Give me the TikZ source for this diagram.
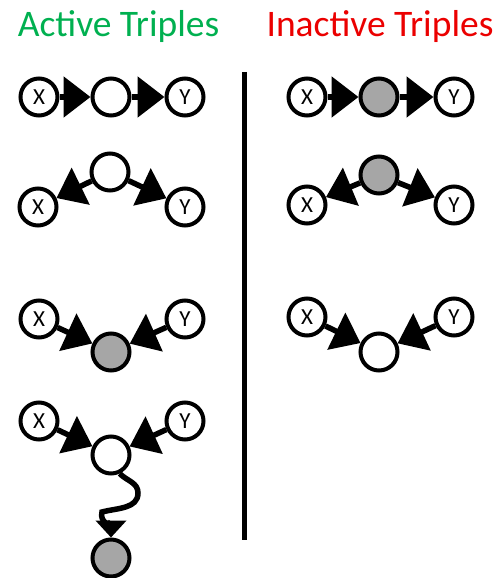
\documentclass[tikz,border=0pt]{standalone}
\usepackage{fontspec}
\setmainfont{Carlito}
\usetikzlibrary{arrows.meta}
\definecolor{actgreen}{RGB}{0,176,80}
\definecolor{inactred}{RGB}{235,0,0}
\definecolor{obsgray}{RGB}{166,166,166}
\begin{document}
\begin{tikzpicture}[x=1pt, y=-1pt,
  var/.style={circle, draw, line width=4pt, minimum size=37pt, inner sep=0pt, fill=white, font=\fontsize{23}{24}\selectfont},
  obs/.style={var, fill=obsgray},
  edge/.style={line width=5.5pt, -{Triangle[length=27pt, width=40pt]}},
  title/.style={anchor=base, font=\fontsize{37.5}{40}\selectfont}]
  \useasboundingbox (0,0) rectangle (499,578);
  \node[title, text=actgreen] (acttitle) at (118.5,37) {Active Triples};
  \node[title, text=inactred] (inacttitle) at (380,37) {Inactive Triples};
  \coordinate (divtop) at (244,72);
  \coordinate (divbot) at (244,540);
  \draw[line width=5pt] (divtop) -- (divbot);
  % active
  \node[var] (ax1) at (39,97) {X};
  \node[var] (am1) at (111,97) {};
  \node[var] (ay1) at (185,97) {Y};
  \draw[edge] (ax1) -- (am1);
  \draw[edge] (am1) -- (ay1);
  \node[var] (ax2) at (38,207) {X};
  \node[var] (am2) at (110,172) {};
  \node[var] (ay2) at (185,207) {Y};
  \draw[edge] (am2) -- (ax2);
  \draw[edge] (am2) -- (ay2);
  \node[var] (ax3) at (39,319) {X};
  \node[obs] (am3) at (111,352) {};
  \node[var] (ay3) at (185,319) {Y};
  \draw[edge] (ax3) -- (am3);
  \draw[edge] (ay3) -- (am3);
  \node[var] (ax4) at (39,421) {X};
  \node[var] (am4) at (111,455) {};
  \node[var] (ay4) at (185,421) {Y};
  \node[obs] (ag4) at (111,558) {};
  \draw[edge] (ax4) -- (am4);
  \draw[edge] (ay4) -- (am4);
  \coordinate (w1) at (138,493);
  \coordinate (w2) at (102,512);
  \draw[line width=5.5pt, -{Triangle[length=17pt, width=30pt]}] (am4.-65) to[out=-45, in=90] (w1) to[out=-90, in=15] (w2) to[out=-105, in=90] (ag4.north);
  % inactive
  \node[var] (ix1) at (307,97) {X};
  \node[obs] (im1) at (379,97) {};
  \node[var] (iy1) at (454,97) {Y};
  \draw[edge] (ix1) -- (im1);
  \draw[edge] (im1) -- (iy1);
  \node[var] (ix2) at (307,205) {X};
  \node[obs] (im2) at (379,175) {};
  \node[var] (iy2) at (454,205) {Y};
  \draw[edge] (im2) -- (ix2);
  \draw[edge] (im2) -- (iy2);
  \node[var] (ix3) at (307,317) {X};
  \node[var] (im3) at (379,352) {};
  \node[var] (iy3) at (454,317) {Y};
  \draw[edge] (ix3) -- (im3);
  \draw[edge] (iy3) -- (im3);
\end{tikzpicture}
\end{document}
